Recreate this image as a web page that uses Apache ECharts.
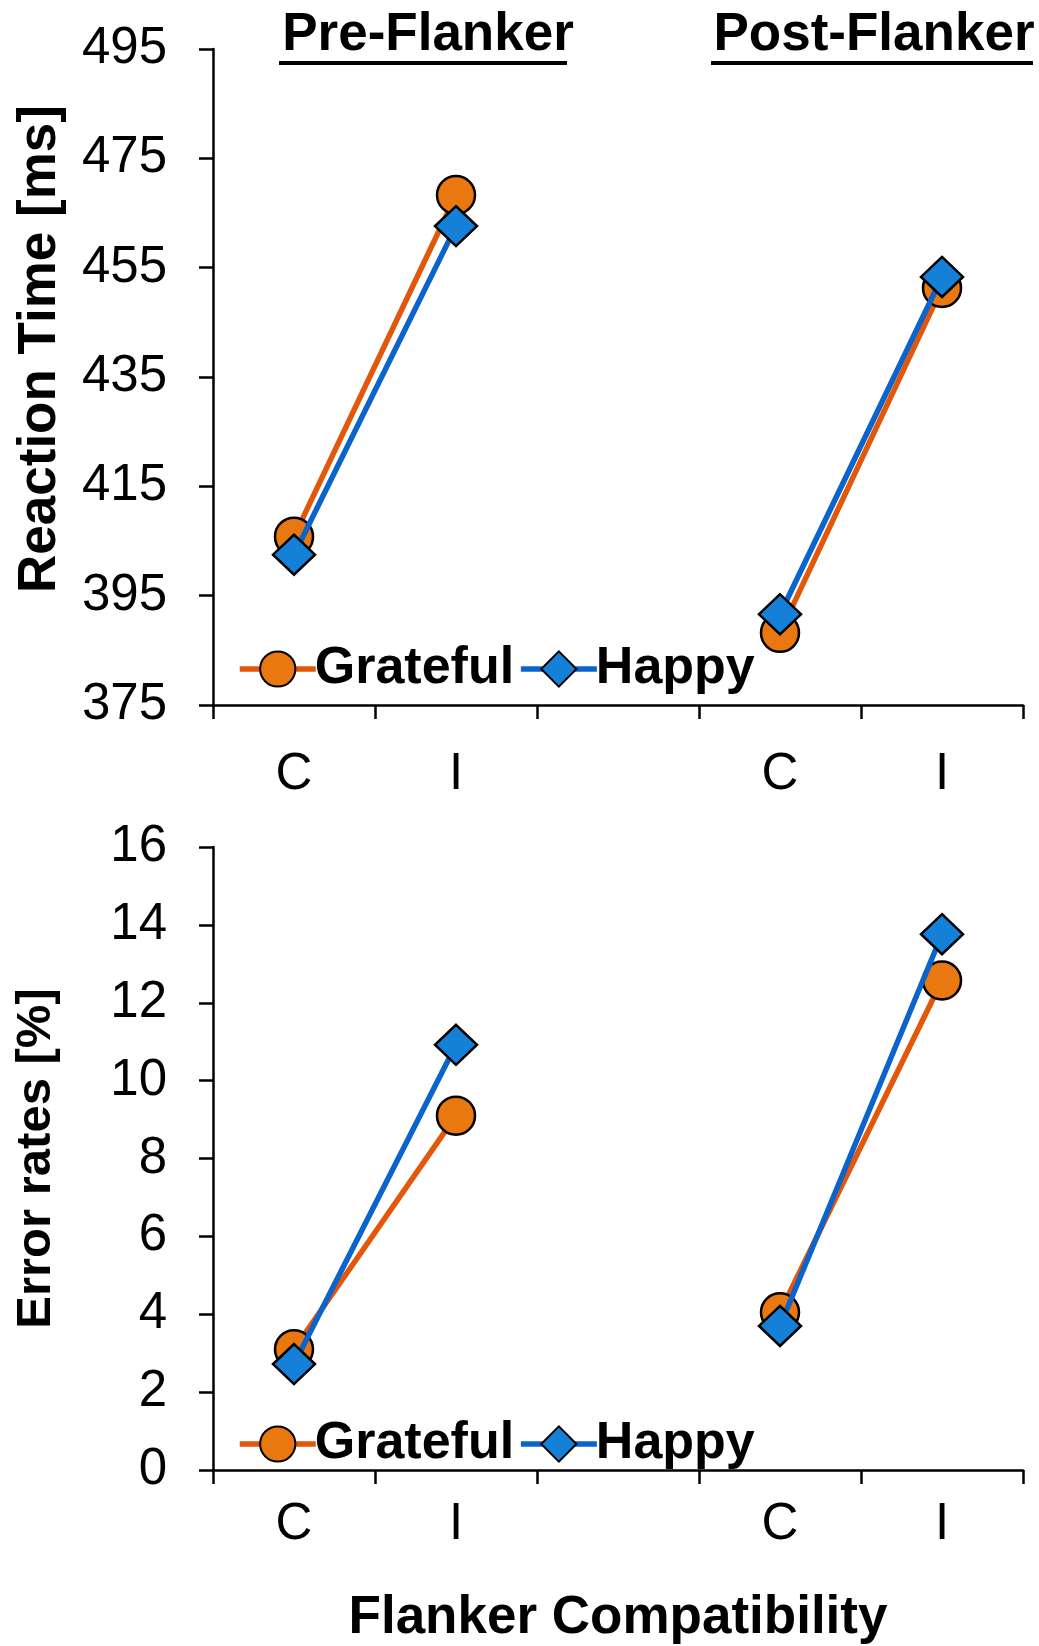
<!DOCTYPE html>
<html>
<head>
<meta charset="utf-8">
<script src="https://cdn.jsdelivr.net/npm/echarts@6/dist/echarts.min.js"></script>
<style>
html,body{margin:0;padding:0;background:#fff;}
#chart{width:1039px;height:1646px;}
</style>
</head>
<body>
<div id="chart"></div>
<script>
// ---- data ----
const categories = ['C', 'I', '', 'C', 'I'];
const panelTitles = ['Pre-Flanker', 'Post-Flanker'];
const seriesNames = ['Grateful', 'Happy'];
const rtGrateful = [405.8, 468.3, null, 388.2, 451.3];
const rtHappy = [402.5, 462.6, null, 391.6, 453.3];
const errGrateful = [3.1, 9.1, null, 4.05, 12.57];
const errHappy = [2.72, 10.92, null, 3.7, 13.76];
const rtTicks = { min: 375, max: 495, interval: 20 };
const errTicks = { min: 0, max: 16, interval: 2 };
const yNames = ['Reaction Time [ms]', 'Error rates [%]'];
const xName = 'Flanker Compatibility';

// ---- styles ----
const FONT = 'Liberation Sans, Arial, sans-serif';
const colors = {
  Grateful: { line: '#E2570A', fill: '#E8780F' },
  Happy: { line: '#0A64CC', fill: '#1580D8' }
};
const symbols = { Grateful: 'circle', Happy: 'diamond' };
const symbolSizes = { Grateful: 38, Happy: [42, 40] };

const grids = [
  { left: 213, right: 16, top: 49, height: 656 },
  { left: 213, right: 16, top: 847, height: 642 }
];

function xAxisFor(i, withName, margin) {
  return {
    type: 'category', gridIndex: i, data: categories, boundaryGap: true,
    axisLine: { lineStyle: { color: '#000', width: 2.5 } },
    axisTick: { show: true, length: 14, inside: false, alignWithLabel: false, lineStyle: { color: '#000', width: 2.5 } },
    axisLabel: { color: '#000', fontSize: 51, fontFamily: FONT, margin: margin },
    splitLine: { show: false },
    name: withName ? xName : '', nameLocation: 'middle', nameGap: 122,
    nameTextStyle: { color: '#000', fontSize: 53, fontWeight: 'bold', fontFamily: FONT }
  };
}
function yAxisFor(i, t, name, fontSize, pad, gap) {
  return {
    type: 'value', gridIndex: i, min: t.min, max: t.max, interval: t.interval,
    axisLine: { show: true, lineStyle: { color: '#000', width: 2.5 } },
    axisTick: { show: true, length: 14, lineStyle: { color: '#000', width: 2.5 } },
    axisLabel: { color: '#000', fontSize: 51, fontFamily: FONT, margin: 46 },
    splitLine: { show: false },
    name: name, nameLocation: 'middle', nameGap: gap, nameRotate: 90,
    nameTextStyle: { color: '#000', fontSize: fontSize, fontWeight: 'bold', fontFamily: FONT, padding: pad }
  };
}
function lineSeries(name, data, idx) {
  return {
    name: name, type: 'line', xAxisIndex: idx, yAxisIndex: idx, data: data,
    connectNulls: false, symbol: symbols[name], symbolSize: symbolSizes[name],
    lineStyle: { color: colors[name].line, width: 5.5 },
    itemStyle: { color: colors[name].fill, borderColor: '#000', borderWidth: 2.5 },
    z: name === 'Happy' ? 3 : 2,
    animation: false
  };
}
function legendFor(top) {
  return {
    data: seriesNames, left: 232, top: top, orient: 'horizontal',
    itemWidth: 76, itemHeight: 44, itemGap: 4,
    lineStyle: { width: 5.5 },
    textStyle: { color: '#000', fontSize: 52, fontWeight: 'bold', fontFamily: FONT, padding: [0, 0, 0, -6] },
    selectedMode: false
  };
}

const option = {
  backgroundColor: '#fff',
  animation: false,
  title: [
    { text: panelTitles[0], left: 423, top: 4, textAlign: 'center',
      textStyle: { color: '#000', fontSize: 53, fontWeight: 'bold', fontFamily: FONT } },
    { text: panelTitles[1], left: 869, top: 4, textAlign: 'center',
      textStyle: { color: '#000', fontSize: 53, fontWeight: 'bold', fontFamily: FONT } }
  ],
  graphic: [
    { type: 'rect', shape: { x: 279, y: 61, width: 288, height: 4 }, style: { fill: '#000' } },
    { type: 'rect', shape: { x: 711, y: 61, width: 322, height: 4 }, style: { fill: '#000' } }
  ],
  legend: [legendFor(638), legendFor(1413)],
  grid: grids,
  xAxis: [xAxisFor(0, false, 44), xAxisFor(1, true, 29)],
  yAxis: [
    yAxisFor(0, rtTicks, yNames[0], 53, [0, 0, 0, 56], 146),
    yAxisFor(1, errTicks, yNames[1], 49, [0, 0, 0, 0], 152)
  ],
  series: [
    lineSeries('Grateful', rtGrateful, 0),
    lineSeries('Happy', rtHappy, 0),
    lineSeries('Grateful', errGrateful, 1),
    lineSeries('Happy', errHappy, 1)
  ]
};
const chart = echarts.init(document.getElementById('chart'), null, { renderer: 'canvas' });
chart.setOption(option);
</script>
</body>
</html>
